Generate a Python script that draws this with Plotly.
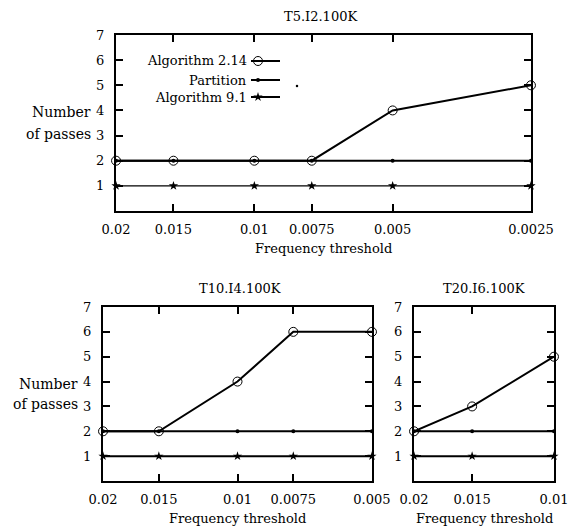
import math
import plotly.graph_objects as go

W, H = 568, 527
FONT = "DejaVu Serif"
FS = 13

# ---------------- data ----------------
x_t5 = [0.02, 0.015, 0.01, 0.0075, 0.005, 0.0025]
xlab_t5 = ["0.02", "0.015", "0.01", "0.0075", "0.005", "0.0025"]
alg214_t5 = [2, 2, 2, 2, 4, 5]
partition_t5 = [2, 2, 2, 2, 2, 2]
alg91_t5 = [1, 1, 1, 1, 1, 1]

x_t10 = [0.02, 0.015, 0.01, 0.0075, 0.005]
xlab_t10 = ["0.02", "0.015", "0.01", "0.0075", "0.005"]
alg214_t10 = [2, 2, 4, 6, 6]
partition_t10 = [2, 2, 2, 2, 2]
alg91_t10 = [1, 1, 1, 1, 1]

x_t20 = [0.02, 0.015, 0.01]
xlab_t20 = ["0.02", "0.015", "0.01"]
alg214_t20 = [2, 3, 5]
partition_t20 = [2, 2, 2]
alg91_t20 = [1, 1, 1]

y_ticks = [1, 2, 3, 4, 5, 6, 7]
series_names = ["Algorithm 2.14", "Partition", "Algorithm 9.1"]


def px(x):
    return x / W


def py(y):
    return 1 - y / H


# panel boxes in pixels: left, right, top, bottom
panels = [
    dict(name="T5.I2.100K", x=x_t5, lab=xlab_t5,
         ys=[alg214_t5, partition_t5, alg91_t5], box=(116, 531, 35, 211),
         ax="", star_w=1.2, title_x=320, ylabel=True),
    dict(name="T10.I4.100K", x=x_t10, lab=xlab_t10,
         ys=[alg214_t10, partition_t10, alg91_t10], box=(103, 372, 307, 481),
         ax="2", star_w=2, title_x=240, ylabel=True),
    dict(name="T20.I6.100K", x=x_t20, lab=xlab_t20,
         ys=[alg214_t20, partition_t20, alg91_t20], box=(414, 554, 307, 481),
         ax="3", star_w=2, title_x=484, ylabel=False),
]

marker_styles = [
    dict(symbol="circle-open", size=9, color="black", line=dict(width=1, color="black")),
    dict(symbol="circle", size=4, color="black"),
    dict(symbol="star", size=7, color="black", line=dict(width=0)),
]

fig = go.Figure()
annotations = []
EPS = 1e-4

for p in panels:
    xa = "x" + p["ax"]
    ya = "y" + p["ax"]
    order = [1, 2, 0]
    for i in order:
        lw = 2 if i != 2 else p["star_w"]
        fig.add_trace(go.Scatter(
            x=p["x"], y=p["ys"][i], xaxis=xa, yaxis=ya, mode="lines+markers",
            line=dict(color="black", width=lw), marker=marker_styles[i],
            name=series_names[i], showlegend=False, cliponaxis=False,
        ))
    l, r, t, b = p["box"]
    common = dict(showline=True, linewidth=2, linecolor="black", mirror="ticks",
                  ticks="inside", ticklen=7, tickwidth=1.5, tickcolor="black",
                  showgrid=False, zeroline=False, automargin=False,
                  ticklabeloverflow="allow",
                  tickfont=dict(family=FONT, size=FS, color="black"))
    fig.layout["xaxis" + p["ax"]] = dict(
        type="log", domain=[px(l), px(r)],
        range=[math.log10(p["x"][0]) + EPS, math.log10(p["x"][-1]) - EPS],
        tickvals=p["x"], ticktext=p["lab"], anchor=ya, ticklabelstandoff=5,
        **common)
    fig.layout["yaxis" + p["ax"]] = dict(
        domain=[py(b), py(t)], range=[0, 7], tickvals=y_ticks,
        ticktext=[str(v) for v in y_ticks], anchor=xa, ticklabelstandoff=7,
        **common)
    annotations.append(dict(text=p["name"], x=px(p["title_x"]), y=py(t - 19),
                            xref="paper", yref="paper", showarrow=False,
                            xanchor="center", yanchor="middle"))
    annotations.append(dict(text="Frequency threshold", x=px((l + r) / 2), y=py(b + 37),
                            xref="paper", yref="paper", showarrow=False,
                            xanchor="center", yanchor="middle"))
    if p["ylabel"]:
        unit = (b - t) / 7
        annotations.append(dict(text="Number", x=px(l - 23), y=py(b - 4 * unit + 2),
                                xref="paper", yref="paper", showarrow=False,
                                xanchor="right", yanchor="middle",
                                font=dict(size=14)))
        annotations.append(dict(text="of passes", x=px(l - 23), y=py(b - 3 * unit - 2),
                                xref="paper", yref="paper", showarrow=False,
                                xanchor="right", yanchor="middle",
                                font=dict(size=14)))

# ---------------- legend (manual, symbol to the right of the text) ----------------
leg_rows = [61, 80, 97]
leg_text_right = 249
leg_line = (251, 280)
leg_marker_x = 258
for i, name in enumerate(series_names):
    annotations.append(dict(text=name, x=px(leg_text_right), y=py(leg_rows[i]),
                            xref="paper", yref="paper", showarrow=False,
                            xanchor="right", yanchor="middle"))
    fig.add_trace(go.Scatter(x=list(leg_line), y=[leg_rows[i]] * 2, xaxis="x4", yaxis="y4",
                             mode="lines", line=dict(color="black", width=2),
                             showlegend=False, hoverinfo="skip", cliponaxis=False))
    fig.add_trace(go.Scatter(x=[leg_marker_x], y=[leg_rows[i]], xaxis="x4", yaxis="y4",
                             mode="markers", marker=marker_styles[i],
                             showlegend=False, hoverinfo="skip", cliponaxis=False))
# stray dot visible in the original figure
fig.add_trace(go.Scatter(x=[297], y=[86], xaxis="x4", yaxis="y4", mode="markers",
                         marker=dict(symbol="circle", size=2.5, color="black"),
                         showlegend=False, hoverinfo="skip"))

fig.layout["xaxis4"] = dict(domain=[0, 1], range=[0, W], visible=False, fixedrange=True,
                            automargin=False)
fig.layout["yaxis4"] = dict(domain=[0, 1], range=[H, 0], visible=False, fixedrange=True,
                            anchor="x4", automargin=False)

fig.update_layout(
    width=W, height=H, autosize=False, margin=dict(l=0, r=0, t=0, b=0, pad=0, autoexpand=False),
    paper_bgcolor="white", plot_bgcolor="rgba(0,0,0,0)",
    font=dict(family=FONT, size=FS, color="black"),
    annotations=annotations, showlegend=False,
)

fig.write_html("out.html")
